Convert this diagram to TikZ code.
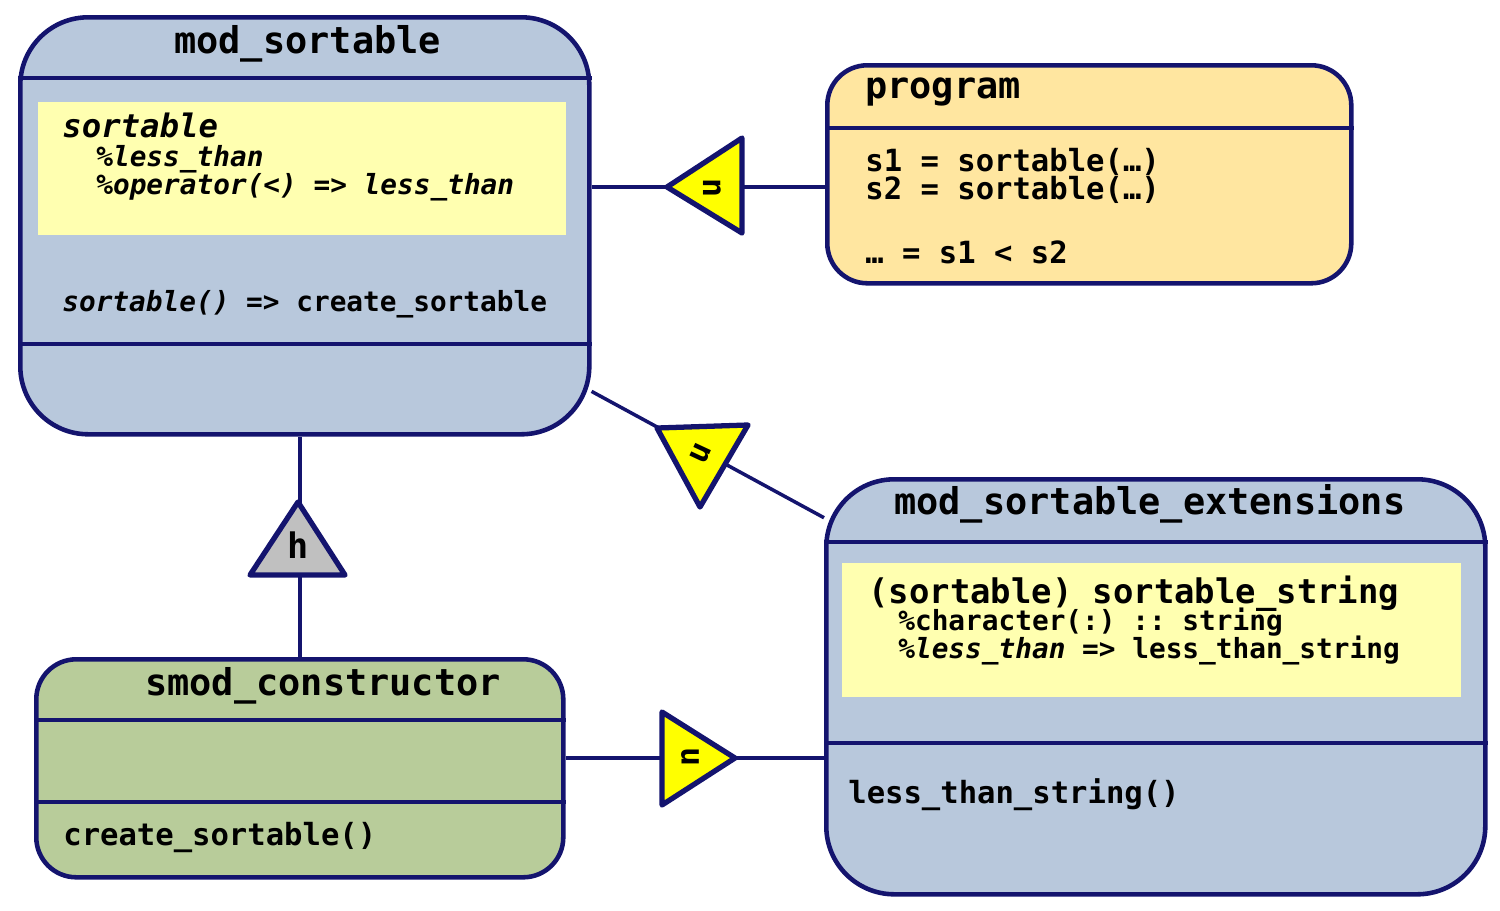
\documentclass[tikz,border=0pt]{standalone}
\usepackage{fontspec}
\setmonofont{DejaVu Sans Mono}
\usepackage{xcolor}
\usepackage{tikz}
\usetikzlibrary{backgrounds}
\definecolor{umlnavy}{HTML}{14146E}
\definecolor{modblue}{HTML}{B8C8DC}
\definecolor{progbg}{HTML}{FFE6A0}
\definecolor{smodbg}{HTML}{B8CC9A}
\definecolor{typebg}{HTML}{FFFFB0}
\definecolor{usetri}{HTML}{FFFF00}
\definecolor{hosttri}{HTML}{C0C0C0}
\newdimen\upx \upx=0.02cm
\newcommand{\fs}[1]{\fontsize{#1}{#1}\selectfont}

\begin{document}
\begin{tikzpicture}[x=0.02cm,y=-0.02cm,font=\ttfamily\bfseries]
    \tikzstyle{unit}=[draw=umlnavy,line width=2.6pt,inner sep=0pt,anchor=north west]
    \tikzstyle{bigunit}=[unit,rounded corners=68\upx]
    \tikzstyle{smallunit}=[unit,rounded corners=40\upx]
    \tikzstyle{typebox}=[fill=typebg,inner sep=0pt,anchor=north west]
    \tikzstyle{sep}=[draw=umlnavy,line width=2.6pt]
    \tikzstyle{txt}=[anchor=base west,inner sep=0pt]
    \tikzstyle{assoc}=[draw=umlnavy,line width=2pt]
    \tikzstyle{tri}=[draw=umlnavy,line width=3pt,line join=round]
    \useasboundingbox (0,0) rectangle (1500,910);
    % units
    \node[bigunit,fill=modblue,minimum width=569\upx,minimum height=417\upx] (ms) at (18,15) {};
    \node[smallunit,fill=progbg,minimum width=524\upx,minimum height=218\upx] (prog) at (825,63) {};
    \node[bigunit,fill=modblue,minimum width=659\upx,minimum height=415\upx] (ext) at (824,477) {};
    \node[smallunit,fill=smodbg,minimum width=527\upx,minimum height=218\upx] (smod) at (34,657) {};
    % compartments
    \draw[sep] (ms.west |- 0,78) -- (ms.east |- 0,78);
    \draw[sep] (ms.west |- 0,344) -- (ms.east |- 0,344);
    \draw[sep] (prog.west |- 0,128) -- (prog.east |- 0,128);
    \draw[sep] (ext.west |- 0,542) -- (ext.east |- 0,542);
    \draw[sep] (ext.west |- 0,743) -- (ext.east |- 0,743);
    \draw[sep] (smod.west |- 0,720) -- (smod.east |- 0,720);
    \draw[sep] (smod.west |- 0,802) -- (smod.east |- 0,802);
    \node[typebox,minimum width=528\upx,minimum height=133\upx] (mstype) at (38,102) {};
    \node[typebox,minimum width=619\upx,minimum height=134\upx] (exttype) at (842,563) {};
    % texts
    \node[txt,font=\ttfamily\bfseries\fs{21}] (mstitle) at (174,53) {mod\_sortable};
    \node[txt,font=\ttfamily\bfseries\itshape\fs{18.4}] (msname) at (62,137) {sortable};
    \node[txt,font=\ttfamily\bfseries\itshape\fs{15.8}] (msop1) at (96,166) {\%less\_than};
    \node[txt,font=\ttfamily\bfseries\itshape\fs{15.8}] (msop2) at (96,194) {\%operator(<) => less\_than};
    \node[txt,font=\ttfamily\bfseries\fs{15.8}] (msctor) at (62,311) {\textit{sortable()} => create\_sortable};
    \node[txt,font=\ttfamily\bfseries\fs{21}] (progtitle) at (865,98) {program};
    \node[txt,font=\ttfamily\bfseries\fs{17.4}] (progl1) at (865,171) {s1 = sortable(…)};
    \node[txt,font=\ttfamily\bfseries\fs{17.4}] (progl2) at (865,199) {s2 = sortable(…)};
    \node[txt,font=\ttfamily\bfseries\fs{17.4}] (progl3) at (865,263) {… = s1 < s2};
    \node[txt,font=\ttfamily\bfseries\fs{21}] (exttitle) at (894,514) {mod\_sortable\_extensions};
    \node[txt,font=\ttfamily\bfseries\fs{19.3}] (extname) at (868,603) {(sortable) sortable\_string};
    \node[txt,font=\ttfamily\bfseries\fs{15.8}] (extop1) at (898,630) {\%character(:) :: string};
    \node[txt,font=\ttfamily\bfseries\fs{15.8}] (extop2) at (898,658) {\textit{\%less\_than} => less\_than\_string};
    \node[txt,font=\ttfamily\bfseries\fs{17.4}] (extproc) at (848,803) {less\_than\_string()};
    \node[txt,font=\ttfamily\bfseries\fs{21}] (smodtitle) at (145,695) {smod\_constructor};
    \node[txt,font=\ttfamily\bfseries\fs{17.4}] (smodproc) at (63,845) {create\_sortable()};
    % connectors
    \coordinate (use1) at (704,187);
    \coordinate (use3) at (700,758);
    \begin{pgfonlayer}{background}
      \draw[assoc] (ms.east |- use1) -- (prog.west |- use1);
      \draw[assoc] (ms.-30) -- (ext.153.4);
      \draw[assoc] (smod.east |- use3) -- (ext.west |- use3);
      \draw[assoc] (smod.north) -- (smod.north |- ms.south);
    \end{pgfonlayer}
    \draw[tri,fill=usetri] (667,187) -- (742,138) -- (742,233) -- cycle;
    \draw[tri,fill=usetri] (657,428) -- (748,425) -- (700,507) -- cycle;
    \draw[tri,fill=usetri] (662,712) -- (735,758) -- (662,805) -- cycle;
    \draw[tri,fill=hosttri] (298,502) -- (345,575) -- (250,575) -- cycle;
    \node[rotate=90,font=\ttfamily\bfseries\fs{18}] (u1) at (712,188) {u};
    \node[rotate=65,font=\ttfamily\bfseries\fs{18}] (u2) at (701,453) {u};
    \node[rotate=-90,font=\ttfamily\bfseries\fs{18}] (u3) at (690,757) {u};
    \node[font=\ttfamily\bfseries\fs{20}] (h1) at (298,545) {h};
\end{tikzpicture}
\end{document}
